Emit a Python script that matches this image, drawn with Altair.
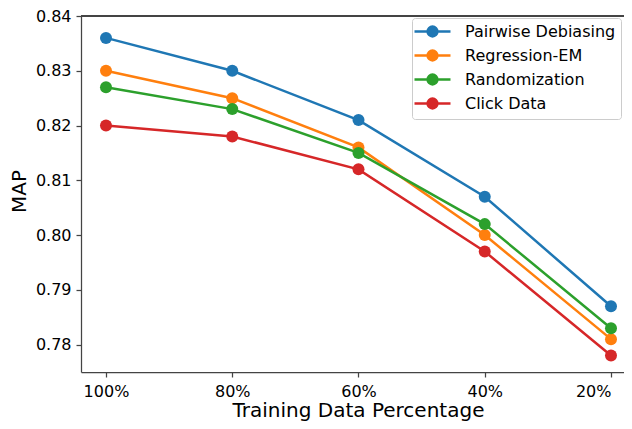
import altair as alt
import pandas as pd

x_labels = ["100%", "80%", "60%", "40%", "20%"]
series_names = ["Pairwise Debiasing", "Regression-EM", "Randomization", "Click Data"]
pairwise = [0.836, 0.830, 0.821, 0.807, 0.787]
regression_em = [0.830, 0.825, 0.816, 0.800, 0.781]
randomization = [0.827, 0.823, 0.815, 0.802, 0.783]
click_data = [0.820, 0.818, 0.812, 0.797, 0.778]
colors = ["#1f77b4", "#ff7f0e", "#2ca02c", "#d62728"]
y_ticks = [0.78, 0.79, 0.80, 0.81, 0.82, 0.83, 0.84]

rows = []
for name, vals in zip(series_names, [pairwise, regression_em, randomization, click_data]):
    for i, v in enumerate(vals):
        rows.append({"idx": i, "label": x_labels[i], "MAP": v, "series": name})
df = pd.DataFrame(rows)

FONT = "DejaVu Sans"
SPINE = "#444444"

label_expr = "[" + ",".join("'%s'" % s for s in x_labels) + "][round(datum.value)]"

# legend symbol: horizontal line with a (ring-filled) dot
u = 7.0
half = 18 / u
def ring(r):
    return "M%.3f,0A%.3f,%.3f 0 1,1 %.3f,0A%.3f,%.3f 0 1,1 %.3f,0" % (r, r, r, -r, r, r, r)
sym_path = "M%.3f,0H%.3f" % (-half, half) + ring(0.18) + ring(0.5) + ring(0.7)

lines = alt.Chart(df).mark_line(
    strokeWidth=2.5,
    point=alt.OverlayMarkDef(filled=True, size=144, opacity=1),
).encode(
    x=alt.X("idx:Q",
            scale=alt.Scale(domain=[-0.198, 4.103], nice=False, zero=False),
            axis=alt.Axis(values=[0, 1, 2, 3, 4], labelExpr=label_expr, grid=False,
                          labelFlush=20, labelPadding=6,
                          title="Training Data Percentage", titleX=277, titleY=44,
                          titleBaseline="alphabetic", titleAnchor="middle")),
    y=alt.Y("MAP:Q",
            scale=alt.Scale(domain=[0.775, 0.84], nice=False, zero=False),
            axis=alt.Axis(values=y_ticks, format=".2f", grid=False, title="MAP",
                          titleX=-62, titleY=175, titleBaseline="middle", titleAngle=-90,
                          titleAnchor="middle")),
    color=alt.Color("series:N",
                    scale=alt.Scale(domain=series_names, range=colors),
                    sort=series_names,
                    legend=alt.Legend(title=None, orient="none", legendX=331, legendY=2,
                                      symbolType=sym_path, symbolSize=196,
                                      symbolStrokeWidth=2.5, symbolOffset=7,
                                      labelOffset=24, rowPadding=3, padding=5,
                                      labelFontSize=16, labelFont=FONT, labelColor="#000000",
                                      strokeColor="#cccccc", fillColor="#ffffff",
                                      cornerRadius=3)),
    order=alt.Order("idx:Q"),
)

top_spine = alt.Chart(df).mark_rule(color=SPINE, strokeWidth=1.25).encode(
    y=alt.datum(0.84)
)

chart = alt.layer(lines, top_spine).properties(
    width=543, height=356,
    autosize=alt.AutoSizeParams(type="none"),
    padding={"left": 73, "top": 8, "right": 0, "bottom": 49},
).configure_view(stroke=None).configure_axis(
    labelFont=FONT, titleFont=FONT, labelFontSize=16, titleFontSize=20,
    labelColor="#000000", titleColor="#000000", titleFontWeight="normal",
    domainColor=SPINE, domainWidth=1.25, tickColor=SPINE, tickSize=5, tickWidth=1.25,
    labelPadding=5,
)

chart.save("out.html", embed_options={"renderer": "svg", "actions": False})
